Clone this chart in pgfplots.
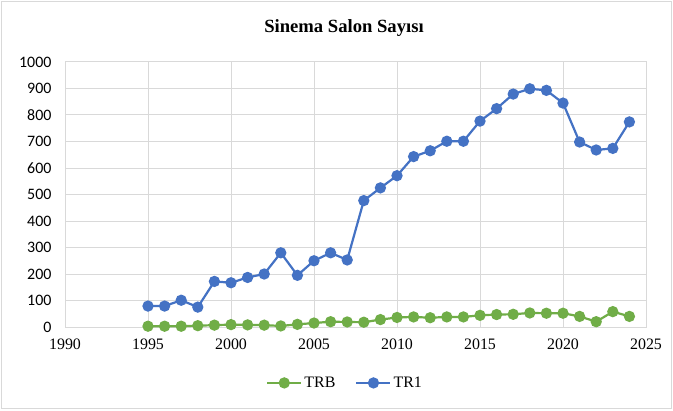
\documentclass[border=0pt]{standalone}
\usepackage{fontspec}
\setmainfont{Liberation Serif}
\newfontfamily\carlito{Carlito}
\usepackage{pgfplots}
\pgfplotsset{compat=1.18}
\definecolor{trblue}{HTML}{4472C4}
\definecolor{trgreen}{HTML}{70AD47}
\definecolor{gridgray}{HTML}{D9D9D9}
\begin{document}
\begin{tikzpicture}[x=1bp,y=1bp]
\path[use as bounding box] (0,0) rectangle (673,410);
\draw[gridgray, line width=1bp] (1.5,1.5) rectangle (671.5,408.5);
\node[font=\rmfamily\bfseries\fontsize{18.7}{20}\selectfont] at (344,382) {Sinema Salon Sayısı};
\begin{axis}[
  at={(65bp,83bp)}, anchor=south west,
  scale only axis, width=581bp, height=265bp,
  xmin=1990, xmax=2025, ymin=0, ymax=1000,
  xtick={1990,1995,...,2025}, ytick={0,100,...,1000},
  grid=major, major grid style={gridgray, line width=1bp},
  axis line style={gridgray, line width=1bp},
  major tick length=0,
  /pgf/number format/assume math mode=true,
  /pgf/number format/1000 sep={},
  xticklabel style={font=\rmfamily\fontsize{16}{16}\selectfont, yshift=-8bp},
  yticklabel style={font=\carlito\fontsize{16}{16}\selectfont, xshift=-10bp},
  legend columns=2,
  legend style={draw=none, fill=none, at={(0.482,-0.211)}, anchor=center,
    font=\rmfamily\fontsize{16}{16}\selectfont, /tikz/every even column/.append style={column sep=18bp}},
  legend image code/.code={\draw[mark repeat=2,mark phase=2] plot coordinates {(0bp,0bp) (17bp,0bp) (34bp,0bp)};},
  every axis plot/.append style={line width=2.2bp, mark=*, mark size=4.5bp},
]
\addplot[color=trgreen, mark options={solid, fill=trgreen, draw=trgreen}] coordinates {
(1995,3) (1996,3) (1997,3) (1998,5) (1999,7) (2000,9) (2001,8) (2002,7) (2003,4) (2004,10)
(2005,15) (2006,20) (2007,19) (2008,18) (2009,28) (2010,36) (2011,38) (2012,35) (2013,38) (2014,38)
(2015,44) (2016,47) (2017,48) (2018,53) (2019,52) (2020,52) (2021,40) (2022,20) (2023,58) (2024,40)
};
\addlegendentry{TRB}
\addplot[color=trblue, mark options={solid, fill=trblue, draw=trblue}] coordinates {
(1995,79) (1996,79) (1997,101) (1998,75) (1999,172) (2000,167) (2001,187) (2002,200) (2003,280) (2004,195)
(2005,250) (2006,280) (2007,253) (2008,477) (2009,525) (2010,571) (2011,643) (2012,665) (2013,701) (2014,701)
(2015,777) (2016,824) (2017,879) (2018,899) (2019,893) (2020,845) (2021,698) (2022,668) (2023,674) (2024,774)
};
\addlegendentry{TR1}
\end{axis}
\end{tikzpicture}
\end{document}
